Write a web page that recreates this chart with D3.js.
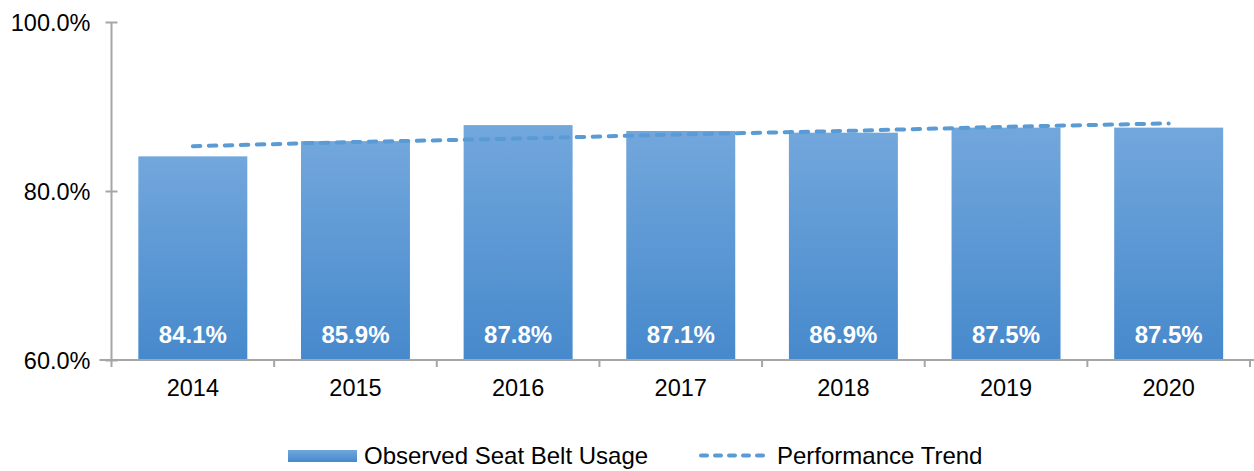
<!DOCTYPE html>
<html><head><meta charset="utf-8">
<script src="https://cdn.jsdelivr.net/npm/d3@7"></script>
<style>body{margin:0;background:#fff;} svg{display:block;font-family:"Liberation Sans",Arial,sans-serif;}</style>
</head><body>
<svg id="c" width="1254" height="471"></svg>
<script>
const years = ["2014","2015","2016","2017","2018","2019","2020"];
const usage = [84.1, 85.9, 87.8, 87.1, 86.9, 87.5, 87.5];
const trend = [85.3, 85.8, 86.2, 86.7, 87.1, 87.6, 88.0];
const yTicks = [60, 80, 100];
const seriesNames = ["Observed Seat Belt Usage", "Performance Trend"];

(function(){
const svg = d3.select("#c");
const pl = 111.5, pr = 1250, pt = 22, pb = 360;
const x = d3.scaleBand().domain(years).range([pl, pr]).paddingInner(0.33).paddingOuter(0.165);
const xb = d3.scaleBand().domain(years).range([pl, pr]);
const y = d3.scaleLinear().domain([60, 100]).range([pb, pt]);
const FF = "Liberation Sans, Arial, sans-serif";

const defs = svg.append("defs");
const g = defs.append("linearGradient").attr("id","bg").attr("x1",0).attr("y1",0).attr("x2",0).attr("y2",1);
g.append("stop").attr("offset","0%").attr("stop-color","#72a7dc");
g.append("stop").attr("offset","100%").attr("stop-color","#4689cc");
const gl = defs.append("linearGradient").attr("id","lg").attr("x1",0).attr("y1",0).attr("x2",0).attr("y2",1);
gl.append("stop").attr("offset","0%").attr("stop-color","#72a7dc");
gl.append("stop").attr("offset","100%").attr("stop-color","#4689cc");

svg.append("g").selectAll("rect").data(years).join("rect")
  .attr("x", d => x(d)).attr("width", x.bandwidth())
  .attr("y", (d,i) => y(usage[i])).attr("height", (d,i) => pb - y(usage[i]))
  .attr("fill", "url(#bg)");

const ya = svg.append("g").attr("transform", `translate(${pl},0)`)
  .call(d3.axisLeft(y).tickValues(yTicks).tickSize(6).tickFormat(d => d.toFixed(1) + "%"));
ya.select(".domain").attr("stroke","#a6a6a6").attr("stroke-width",2).attr("d", `M0,${pt}V${pb}`);
ya.selectAll(".tick line").attr("stroke","#a6a6a6").attr("stroke-width",2).attr("x1",6).attr("x2",-6);
ya.selectAll(".tick text").attr("x",-21).attr("font-size",23.5).attr("fill","#000").attr("font-family",FF).attr("dy","0.35em");

const xa = svg.append("g").attr("transform", `translate(0,${pb})`)
  .call(d3.axisBottom(x).tickSize(0).tickSizeOuter(0));
xa.select(".domain").attr("stroke","#a6a6a6").attr("stroke-width",2).attr("d", `M${pl-12},0H${pr+4}`);
xa.selectAll(".tick text").attr("y",28).attr("dy","0.35em").attr("font-size",23.5).attr("fill","#000").attr("font-family",FF);
svg.append("g").selectAll("line").data(years.concat(["end"])).join("line")
  .attr("x1", (d,i) => i < years.length ? xb(d) : pr).attr("x2", (d,i) => i < years.length ? xb(d) : pr)
  .attr("y1", pb).attr("y2", pb + 7).attr("stroke","#a6a6a6").attr("stroke-width",2);

svg.append("g").selectAll("text").data(years).join("text")
  .attr("x", d => x(d) + x.bandwidth()/2).attr("y", 335).attr("dy","0.35em")
  .attr("text-anchor","middle").attr("fill","#fff").attr("font-weight","bold").attr("font-size",24)
  .attr("font-family",FF)
  .text((d,i) => usage[i].toFixed(1) + "%");

const line = d3.line().x((d,i) => x(years[i]) + x.bandwidth()/2).y(d => y(d));
svg.append("path").datum(trend).attr("d", line).attr("fill","none")
  .attr("stroke","#5b9bd5").attr("stroke-width",4).attr("stroke-dasharray","7.5,8.5").attr("stroke-linecap","round");

const lg = svg.append("g").attr("font-family",FF);
lg.append("rect").attr("x",288).attr("y",450).attr("width",69).attr("height",12).attr("fill","url(#lg)");
lg.append("text").attr("x",364).attr("y",456).attr("dy","0.35em").attr("font-size",24).text(seriesNames[0]);
lg.append("line").attr("x1",701).attr("x2",767).attr("y1",455.5).attr("y2",455.5)
  .attr("stroke","#5b9bd5").attr("stroke-width",4).attr("stroke-dasharray","6,8").attr("stroke-linecap","round");
lg.append("text").attr("x",777).attr("y",456).attr("dy","0.35em").attr("font-size",24).text(seriesNames[1]);
})();
</script>
</body></html>
